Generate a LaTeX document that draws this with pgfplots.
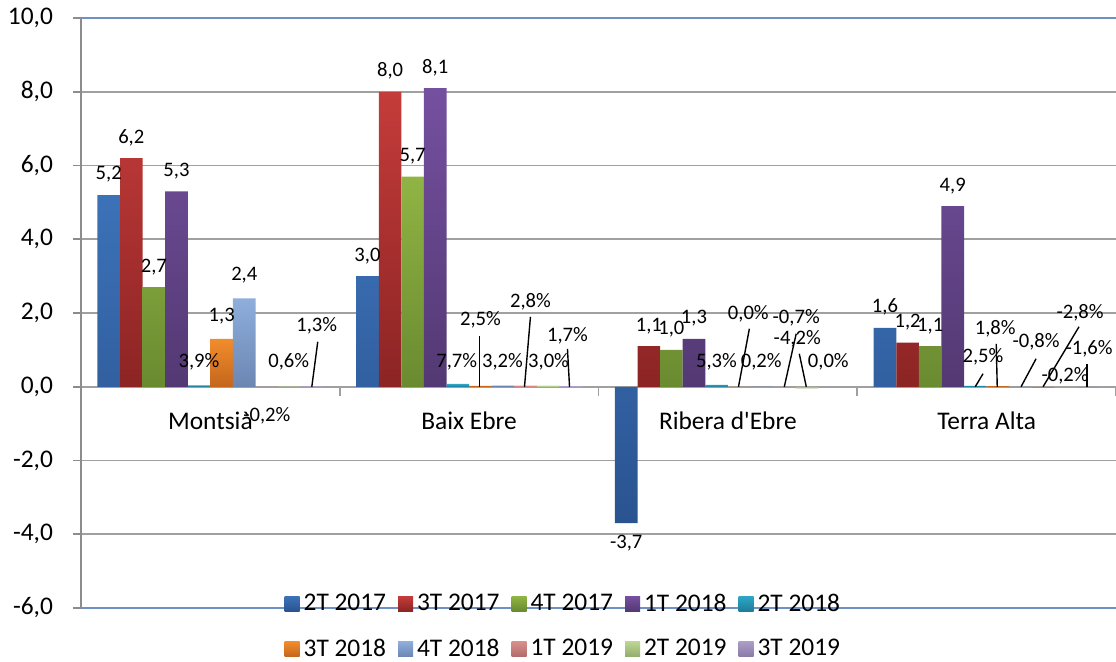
\documentclass[border=0pt]{standalone}
\usepackage{fontspec}
\setmainfont{Carlito}
\usepackage{pgfplots}
\pgfplotsset{compat=1.18}
\definecolor{gridgray}{HTML}{A0A0A0}
\definecolor{axisgray}{HTML}{8C8C8C}
\definecolor{blueline}{HTML}{6F90C4}
\definecolor{c1t}{HTML}{3C72B8}\definecolor{c1b}{HTML}{2A5390}
\definecolor{c2t}{HTML}{C43C3A}\definecolor{c2b}{HTML}{8C2424}
\definecolor{c3t}{HTML}{90B444}\definecolor{c3b}{HTML}{6A8A30}
\definecolor{c4t}{HTML}{7550A0}\definecolor{c4b}{HTML}{533973}
\definecolor{c5t}{HTML}{2EA6C6}\definecolor{c5b}{HTML}{1E7C98}
\definecolor{c6t}{HTML}{F28C2C}\definecolor{c6b}{HTML}{C4661C}
\definecolor{c7t}{HTML}{8EAEDC}\definecolor{c7b}{HTML}{6C86B2}
\definecolor{c8t}{HTML}{DA8E8C}\definecolor{c8b}{HTML}{B06C6A}
\definecolor{c9t}{HTML}{BAD690}\definecolor{c9b}{HTML}{94AC70}
\definecolor{c10t}{HTML}{AC9CC8}\definecolor{c10b}{HTML}{8A7AA6}
\newcommand{\dlab}{\fontsize{10.3}{12}\selectfont}
\newcommand{\bigf}{\fontsize{12.7}{15}\selectfont}
\begin{document}
\begin{tikzpicture}
\begin{axis}[
  scale only axis, width=517.5pt, height=295pt,
  xmin=-0.5, xmax=3.5, ymin=-6, ymax=10,
  ytick={-6,-4,...,10},
  axis y line=left, axis x line=middle,
  hide obscured x ticks=false, hide obscured y ticks=false,
  every outer y axis line/.append style={-, draw=axisgray, line width=1.2pt},
  every inner x axis line/.append style={-, draw=gridgray, line width=0.9pt},
  ymajorgrids, major grid style={gridgray, line width=0.9pt},
  ytick align=outside, major tick length=4pt,
  major y tick style={axisgray, line width=0.9pt},
  xtick={0,1,2,3}, xticklabels={Montsià, Baix Ebre, Ribera d\textquotesingle Ebre, Terra Alta},
  major x tick style={draw=none},
  minor xtick={-0.5,0.5,1.5,2.5,3.5},
  minor x tick style={gridgray, line width=0.9pt},
  minor tick length=4.5pt,
  xtick align=outside,
  x tick label style={anchor=base, yshift=-17.5pt, font=\bigf},
  y tick label style={font=\bigf, xshift=-6.5pt},
  /pgf/number format/fixed, /pgf/number format/fixed zerofill,
  /pgf/number format/precision=1, /pgf/number format/use comma,
  /pgf/number format/assume math mode=true,
  ybar=0pt, bar width=0.0873,
  nodes near coords align={vertical},
  every node near coord/.append style={font=\dlab, inner sep=6pt, black},
  clip=false,
  legend columns=5,
  legend style={at={(0.467,0.025)}, anchor=north, draw=none, fill=none, inner sep=0pt,
    font=\bigf, nodes={inner xsep=2pt, inner ysep=0pt}, row sep=12.5pt,
    /tikz/every even column/.append style={column sep=4pt}},
  legend image code/.code={\path[#1] (0pt,-3.75pt) rectangle (7.5pt,3.75pt);},
]
\addplot[draw=none, top color=c1t, bottom color=c1b, nodes near coords] coordinates {(0,5.2) (1,3.0) (2,-3.7) (3,1.6)};
\addplot[draw=none, top color=c2t, bottom color=c2b, nodes near coords] coordinates {(0,6.2) (1,8.0) (2,1.1) (3,1.2)};
\addplot[draw=none, top color=c3t, bottom color=c3b, nodes near coords] coordinates {(0,2.7) (1,5.7) (2,1.0) (3,1.1)};
\addplot[draw=none, top color=c4t, bottom color=c4b, nodes near coords] coordinates {(0,5.3) (1,8.1) (2,1.3) (3,4.9)};
\addplot[draw=none, top color=c5t, bottom color=c5b] coordinates {(0,0.039) (1,0.077) (2,0.053) (3,0.025)};
\addplot[draw=none, top color=c6t, bottom color=c6b] coordinates {(0,1.3) (1,0.025) (2,0.000) (3,0.018)};
\addplot[draw=none, top color=c7t, bottom color=c7b] coordinates {(0,2.4) (1,0.032) (2,0.002) (3,-0.008)};
\addplot[draw=none, top color=c8t, bottom color=c8b] coordinates {(0,-0.002) (1,0.028) (2,-0.007) (3,-0.028)};
\addplot[draw=none, top color=c9t, bottom color=c9b] coordinates {(0,0.006) (1,0.030) (2,-0.042) (3,-0.002)};
\addplot[draw=none, top color=c10t, bottom color=c10b] coordinates {(0,0.013) (1,0.017) (2,0.000) (3,-0.016)};
\legend{2T 2017,3T 2017,4T 2017,1T 2018,2T 2018,3T 2018,4T 2018,1T 2019,2T 2019,3T 2019}
% top and bottom frame lines
\draw[blueline, line width=1.4pt] (rel axis cs:0,1) -- (rel axis cs:1,1);
\draw[blueline, line width=1.4pt] (rel axis cs:0,0) -- (rel axis cs:1,0);
% labels for series 6 and 7 in Montsia
\node[font=\dlab] at (axis cs:0.0437,1.924) {1,3};
\node[font=\dlab] at (axis cs:0.131,3.024) {2,4};
% percent labels
\begin{scope}[every node/.style={font=\dlab, inner sep=0pt}]
\node at (axis cs:-0.044,0.678) {3,9\%};
\node at (axis cs:0.218,-0.786) {-0,2\%};
\node at (axis cs:0.303,0.678) {0,6\%};
\node at (axis cs:0.411,1.654) {1,3\%};
\node at (axis cs:0.952,0.678) {7,7\%};
\node at (axis cs:1.044,1.817) {2,5\%};
\node at (axis cs:1.129,0.678) {3,2\%};
\node at (axis cs:1.237,2.305) {2,8\%};
\node at (axis cs:1.307,0.678) {3,0\%};
\node at (axis cs:1.380,1.383) {1,7\%};
\node at (axis cs:1.956,0.678) {5,3\%};
\node at (axis cs:2.079,1.980) {0,0\%};
\node at (axis cs:2.129,0.678) {0,2\%};
\node at (axis cs:2.264,1.871) {-0,7\%};
\node at (axis cs:2.268,1.302) {-4,2\%};
\node at (axis cs:2.388,0.678) {0,0\%};
\node at (axis cs:2.986,0.814) {2,5\%};
\node at (axis cs:3.033,1.573) {1,8\%};
\node at (axis cs:3.191,1.220) {-0,8\%};
\node at (axis cs:3.303,0.298) {-0,2\%};
\node at (axis cs:3.361,2.007) {-2,8\%};
\node at (axis cs:3.396,1.030) {-1,6\%};
\end{scope}
% leader lines
\begin{scope}[black, line width=0.7pt]
\draw (axis cs:0.392,0) -- (axis cs:0.415,1.22);
\draw (axis cs:1.041,0) -- (axis cs:1.041,1.383);
\draw (axis cs:1.214,0) -- (axis cs:1.237,1.898);
\draw (axis cs:1.388,0) -- (axis cs:1.380,1.03);
\draw (axis cs:2.041,0) -- (axis cs:2.083,1.573);
\draw (axis cs:2.218,0) -- (axis cs:2.264,1.437);
\draw (axis cs:2.303,0) -- (axis cs:2.276,0.895);
\draw (axis cs:2.956,0) -- (axis cs:2.986,0.353);
\draw (axis cs:3.041,0) -- (axis cs:3.037,1.166);
\draw (axis cs:3.133,0) -- (axis cs:3.191,0.759);
\draw (axis cs:3.218,0) -- (axis cs:3.357,1.627);
\draw (axis cs:3.388,0) -- (axis cs:3.388,0.624);
\end{scope}
\coordinate (sw) at (rel axis cs:0,0);
\coordinate (ne) at (rel axis cs:1,1);
\end{axis}
\pgfresetboundingbox
\path[use as bounding box] ([xshift=-40.5pt,yshift=-26.5pt]sw) rectangle ([yshift=9pt]ne);
\end{tikzpicture}
\end{document}
